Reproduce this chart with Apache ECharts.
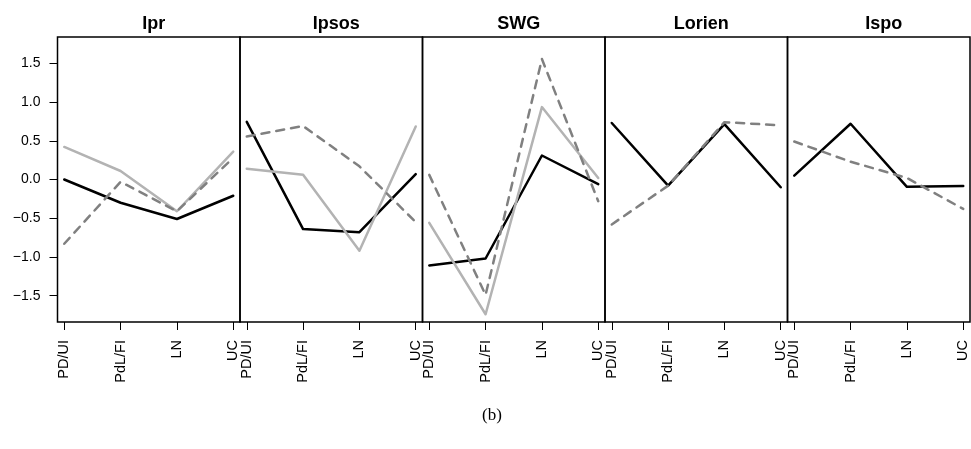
<!DOCTYPE html>
<html>
<head>
<meta charset="utf-8">
<script src="https://cdn.jsdelivr.net/npm/echarts@6/dist/echarts.min.js"></script>
<style>html,body{margin:0;padding:0;background:#fff}#c{width:971px;height:449px}</style>
</head>
<body>
<div id="c"></div>
<script>
const categories = ['PD/UI', 'PdL/FI', 'LN', 'UC'];
const panels = ['Ipr', 'Ipsos', 'SWG', 'Lorien', 'Ispo'];
const blackLine = [
  [0.00, -0.30, -0.51, -0.21],
  [0.745, -0.64, -0.68, 0.07],
  [-1.11, -1.02, 0.31, -0.06],
  [0.73, -0.08, 0.715, -0.10],
  [0.05, 0.72, -0.095, -0.085]
];
const grayLine = [
  [0.42, 0.11, -0.41, 0.36],
  [0.14, 0.06, -0.92, 0.685],
  [-0.56, -1.74, 0.935, 0.02],
  null,
  null
];
const dashedLine = [
  [-0.83, -0.03, -0.41, 0.28],
  [0.555, 0.69, 0.17, -0.55],
  [0.06, -1.49, 1.555, -0.28],
  [-0.58, -0.08, 0.74, 0.70],
  [0.49, 0.23, 0.02, -0.38]
];
const yTicks = [-1.5, -1.0, -0.5, 0.0, 0.5, 1.0, 1.5];
const caption = '(b)';

const FONT = '"Liberation Sans", Arial, Helvetica, sans-serif';
const gLeft = 57.5, gW = 182.5, gTop = 37, gH = 285;
const grids = [], xAxes = [], yAxes = [], series = [], titles = [];
const idx = categories.map((c, i) => i);
const fmtY = v => (v < 0 ? '\u2212' : '') + Math.abs(v).toFixed(1);

panels.forEach((name, p) => {
  grids.push({left: gLeft + p * gW, top: gTop, width: gW, height: gH,
    show: true, borderColor: '#000', borderWidth: 1.5, backgroundColor: 'transparent'});
  titles.push({text: name, left: gLeft + p * gW + gW / 2, top: 10, textAlign: 'center',
    textStyle: {fontFamily: FONT, fontWeight: 'bold', fontSize: 18, color: '#000'}});
  xAxes.push({type: 'value', gridIndex: p, min: -0.12, max: 3.12, position: 'bottom',
    splitLine: {show: false},
    axisLine: {show: false, onZero: false},
    axisTick: {show: true, inside: false, customValues: idx, length: 8, lineStyle: {color: '#000', width: 1}},
    axisLabel: {show: true, customValues: idx, rotate: 90, margin: 18,
      formatter: v => categories[Math.round(v)], fontFamily: FONT, fontSize: 14.5, color: '#000'}});
  yAxes.push({type: 'value', gridIndex: p, min: -1.84, max: 1.84, position: 'left',
    splitLine: {show: false},
    axisLine: {show: false, onZero: false},
    axisTick: {show: p === 0, inside: false, customValues: yTicks, length: 8, lineStyle: {color: '#000', width: 1}},
    axisLabel: {show: p === 0, customValues: yTicks, margin: 17, formatter: fmtY,
      fontFamily: FONT, fontSize: 14, color: '#000'}});
  const mk = (vals, color, type, z) => ({
    type: 'line', xAxisIndex: p, yAxisIndex: p, showSymbol: false, symbol: 'none',
    animation: false, z: z,
    data: vals.map((v, i) => [i, v]),
    lineStyle: {color: color, width: 2.5, type: type, cap: 'round', join: 'round'}
  });
  series.push(mk(blackLine[p], '#000000', 'solid', 3));
  if (grayLine[p]) series.push(mk(grayLine[p], '#b3b3b3', 'solid', 4));
  if (dashedLine[p]) series.push(mk(dashedLine[p], '#808080', [8, 7], 5));
});

titles.push({text: caption, left: 487, top: 402, textAlign: 'center',
  textStyle: {fontFamily: '"Liberation Serif", "Times New Roman", serif', fontWeight: 'normal', fontSize: 17, color: '#000'}});

const chart = echarts.init(document.getElementById('c'), null, {renderer: 'canvas'});
chart.setOption({animation: false, title: titles, grid: grids, xAxis: xAxes, yAxis: yAxes, series: series});
</script>
</body>
</html>
